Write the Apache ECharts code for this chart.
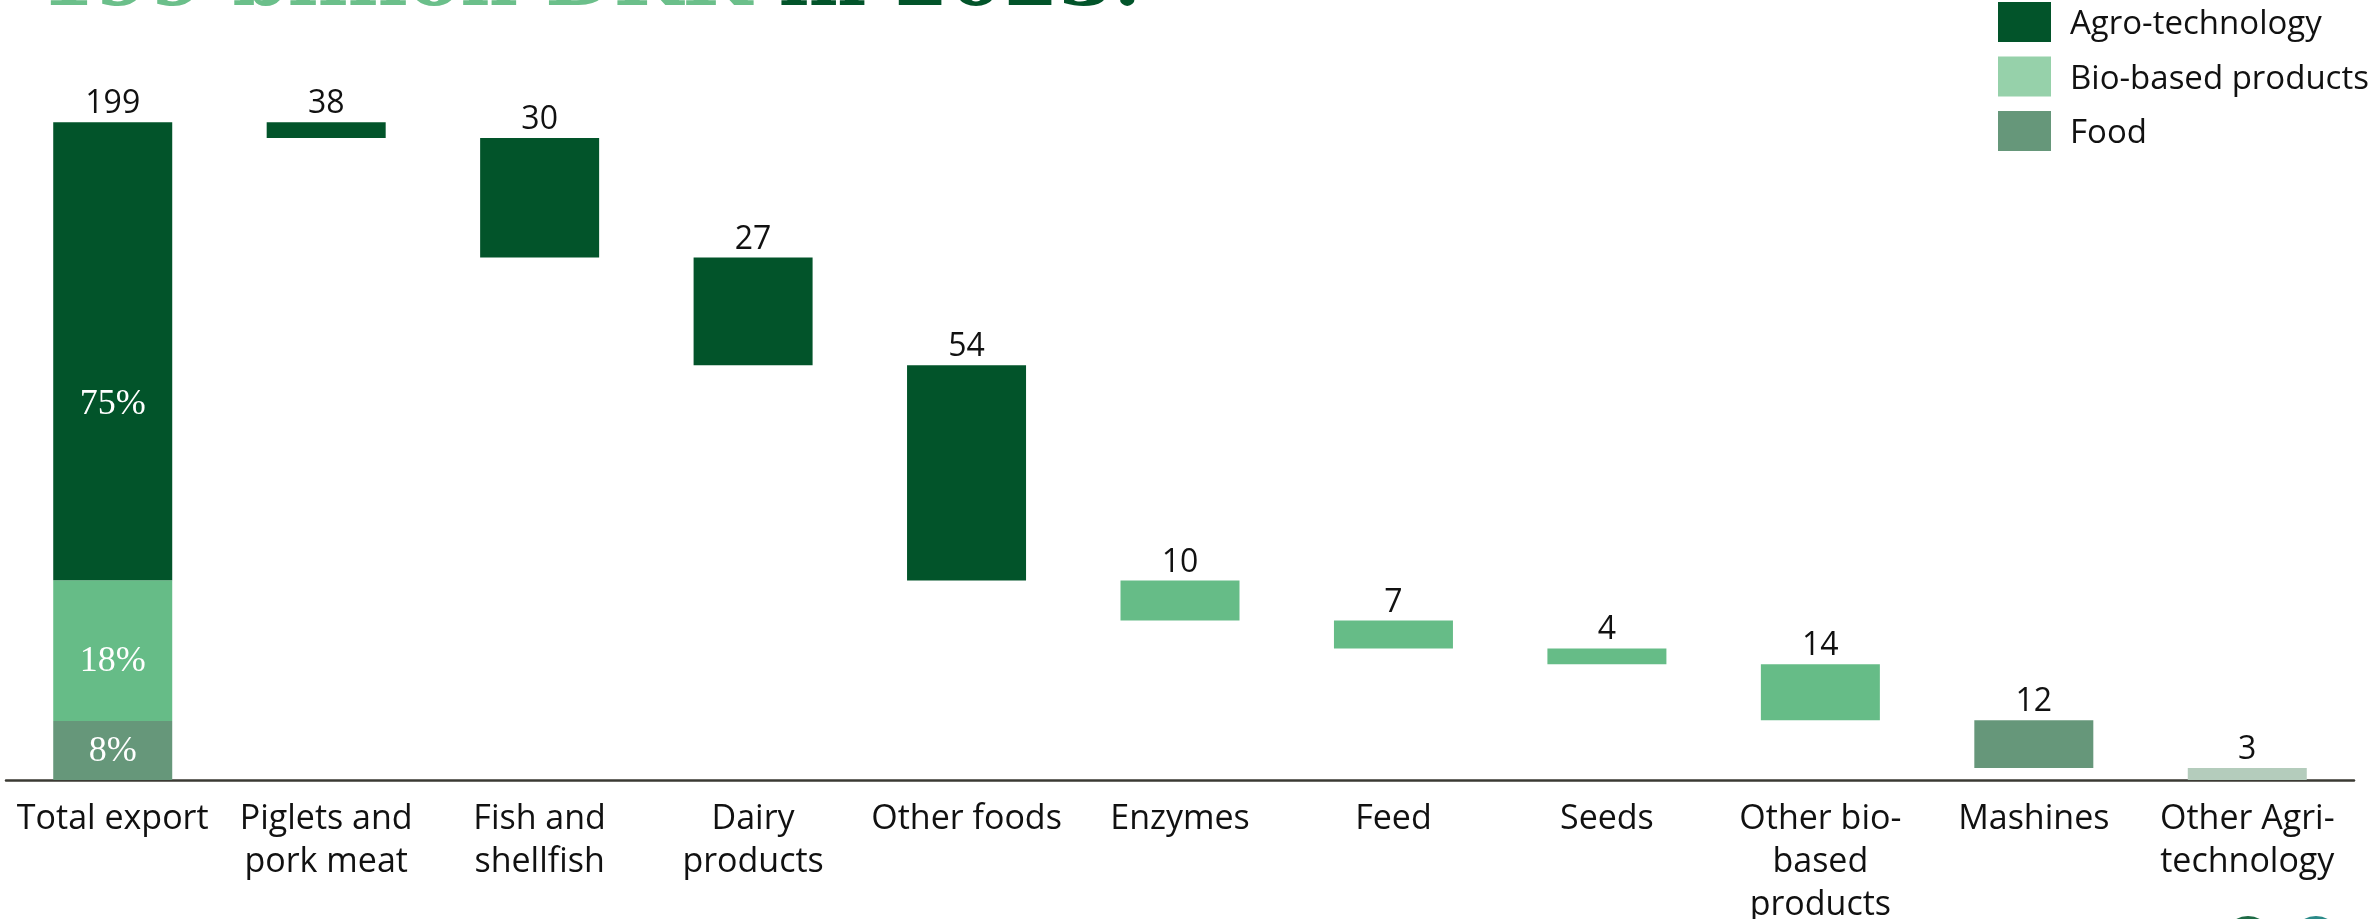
<!DOCTYPE html>
<html>
<head>
<meta charset="utf-8">
<script src="https://cdn.jsdelivr.net/npm/echarts@6/dist/echarts.min.js"></script>
<style>
html,body{margin:0;padding:0;background:#fff;}
#chart{width:2372px;height:919px;}
</style>
</head>
<body>
<div id="chart"></div>
<script>
// ---- data ----
const categories = ['Total export', 'Piglets and\npork meat', 'Fish and\nshellfish', 'Dairy\nproducts', 'Other foods', 'Enzymes', 'Feed', 'Seeds', 'Other bio-\nbased\nproducts', 'Mashines', 'Other Agri-\ntechnology'];
// total bar segments as drawn (bottom to top)
const segmentNames = ['Food', 'Bio-based products', 'Agro-technology'];
const totalSegments = [14.8, 35.3, 114.8];
const segmentLabels = ['8%', '18%', '75%'];
// waterfall steps as drawn
const steps = [3.9, 30, 27, 54, 10, 7, 4, 14, 12, 3];
// printed value labels
const valueLabels = ['199', '38', '30', '27', '54', '10', '7', '4', '14', '12', '3'];

// ---- styles ----
const DARK = '#02542A', LIGHT = '#66BC87', FOODC = '#66977A', PALE = '#B4CCBC';
const segColors = [FOODC, LIGHT, DARK];
const stepColors = [DARK, DARK, DARK, DARK, LIGHT, LIGHT, LIGHT, LIGHT, FOODC, PALE];
const SANS = '"Open Sans", "Noto Sans", sans-serif';

const totalHeight = totalSegments.reduce((a, b) => a + b, 0);
const base = ['-'];
let cur = totalHeight;
steps.forEach(s => { cur -= s; base.push(Math.max(cur, 0)); });

const dash = n => Array(n).fill('-');
const BW = 119;
const series = [{
  name: 'base', type: 'bar', stack: 'wf', barWidth: BW, silent: true,
  itemStyle: { color: 'transparent' }, data: base
}];
const segOffsets = [[0, 1], [0, 11], [0, 53]];
totalSegments.forEach((v, i) => {
  series.push({
    name: segmentNames[i], type: 'bar', stack: 'wf', barWidth: BW,
    itemStyle: { color: segColors[i] },
    label: {
      show: true, position: 'inside', offset: segOffsets[i],
      formatter: () => segmentLabels[i],
      color: '#fff', fontFamily: '"Liberation Serif", serif', fontSize: 36
    },
    data: [v].concat(dash(categories.length - 1))
  });
});
series.push({
  name: 'steps', type: 'bar', stack: 'wf', barWidth: BW,
  label: {
    show: true, position: 'top', distance: 2,
    formatter: p => valueLabels[p.dataIndex],
    color: '#111', fontFamily: SANS, fontSize: 32
  },
  data: [0].concat(steps).map((v, i) => ({
    value: v,
    itemStyle: { color: i === 0 ? 'transparent' : stepColors[i - 1] }
  }))
});

const chart = echarts.init(document.getElementById('chart'), null, { renderer: 'canvas' });
chart.setOption({
  animation: false,
  backgroundColor: '#fff',
  title: {
    left: 40, top: -55, padding: 0,
    text: '{a|199 billion DKK }{b|in 2023.}',
    textStyle: {
      rich: {
        a: { color: '#6BBF8A', fontFamily: '"DejaVu Serif", serif', fontWeight: 'bold', fontSize: 79, lineHeight: 79 },
        b: { color: DARK, fontFamily: '"DejaVu Serif", serif', fontWeight: 'bold', fontSize: 79, lineHeight: 79 }
      }
    }
  },
  legend: {
    orient: 'vertical', left: 1998, top: 2, padding: 0,
    itemWidth: 53, itemHeight: 40, itemGap: 14.5, selectedMode: false,
    icon: 'rect',
    formatter: '{t|{name}}',
    textStyle: {
      fontFamily: SANS, fontSize: 33, color: '#111', padding: [0, 0, 0, 14],
      rich: { t: { fontFamily: SANS, fontSize: 33, color: '#111', lineHeight: 34, padding: [6, 0, 0, 0] } }
    },
    data: [
      { name: 'Agro-technology', itemStyle: { color: DARK } },
      { name: 'Bio-based products', itemStyle: { color: '#96D1AA' } },
      { name: 'Food', itemStyle: { color: FOODC } }
    ]
  },
  grid: { left: 6, right: 18, top: 102, bottom: 139, outerBoundsMode: 'none' },
  xAxis: {
    type: 'category', data: categories,
    axisLine: { show: true, lineStyle: { color: '#3b3a33', width: 2.5 } },
    axisTick: { show: false },
    axisLabel: { interval: 0, margin: 18, fontFamily: SANS, fontSize: 34, lineHeight: 43, color: '#111' }
  },
  yAxis: {
    type: 'value', min: 0, max: 170, show: false,
    splitLine: { show: false }
  },
  series: series,
  graphic: [
    { type: 'circle', shape: { cx: 2248, cy: 940, r: 22 }, style: { fill: 'none', stroke: '#1E6B45', lineWidth: 4 } },
    { type: 'circle', shape: { cx: 2316, cy: 940, r: 22 }, style: { fill: 'none', stroke: '#2A8A88', lineWidth: 4 } }
  ]
});
</script>
</body>
</html>
